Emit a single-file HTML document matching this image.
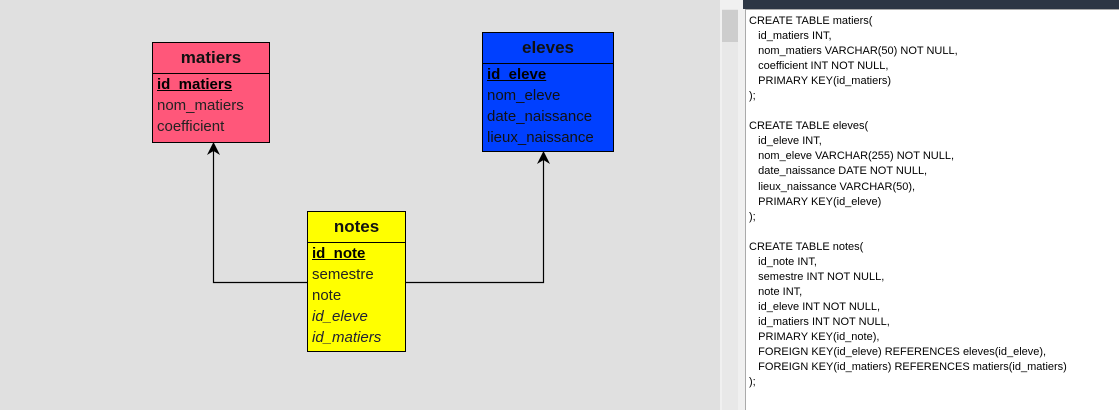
<!DOCTYPE html>
<html><head><style>
body{margin:0;width:1119px;height:410px;background:#e0e0e0;position:relative;overflow:hidden;font-family:"Liberation Sans",sans-serif}
.t{position:absolute;border:1px solid #000;box-sizing:border-box}
.h{border-bottom:1px solid #000;text-align:center;font-weight:bold;font-size:17px;height:30px;line-height:30px;color:#111}
.f{font-size:15px;line-height:21px;padding-left:4px;color:#222}
.k{font-weight:bold;text-decoration:underline;color:#000}
.i{font-style:italic;color:#223}
#sql{position:absolute;left:745px;top:9px;width:374px;height:401px;background:#fff;border-left:1px solid #aaa;border-top:1px solid #aaa;box-sizing:border-box;font-size:11px;line-height:15.05px;padding:4px 0 0 3px;white-space:pre;color:#000}
</style></head><body>
<div style="position:absolute;left:720px;top:0;width:399px;height:410px;background:#f0f0f0"></div>
<div style="position:absolute;left:722px;top:9px;width:16px;height:401px;background:#e8e8e8"></div>
<div style="position:absolute;left:722px;top:10px;width:16px;height:32px;background:#cdcdcd"></div>
<div style="position:absolute;left:743px;top:0;width:376px;height:9px;background:#2d3644"></div>
<div id="sql">CREATE TABLE matiers(
   id_matiers INT,
   nom_matiers VARCHAR(50) NOT NULL,
   coefficient INT NOT NULL,
   PRIMARY KEY(id_matiers)
);

CREATE TABLE eleves(
   id_eleve INT,
   nom_eleve VARCHAR(255) NOT NULL,
   date_naissance DATE NOT NULL,
   lieux_naissance VARCHAR(50),
   PRIMARY KEY(id_eleve)
);

CREATE TABLE notes(
   id_note INT,
   semestre INT NOT NULL,
   note INT,
   id_eleve INT NOT NULL,
   id_matiers INT NOT NULL,
   PRIMARY KEY(id_note),
   FOREIGN KEY(id_eleve) REFERENCES eleves(id_eleve),
   FOREIGN KEY(id_matiers) REFERENCES matiers(id_matiers)
);</div>
<svg style="position:absolute;left:0;top:0" width="720" height="410">
<path d="M213.5 145 V282.5 H543.5 V154" fill="none" stroke="#000" stroke-width="1.2"/>
<path d="M213.5 142 L207 155 L213.5 151 L220 155 Z" fill="#000"/>
<path d="M543.5 151 L537 164 L543.5 160 L550 164 Z" fill="#000"/>
</svg>
<div class="t" style="left:152px;top:42px;width:118px;height:101px;background:#ff577a">
<div class="h">matiers</div>
<div class="f"><span class="k">id_matiers</span><br>nom_matiers<br>coefficient</div></div>
<div class="t" style="left:482px;top:32px;width:132px;height:120px;background:#0040ff">
<div class="h">eleves</div>
<div class="f" style="color:#111"><span class="k">id_eleve</span><br>nom_eleve<br>date_naissance<br>lieux_naissance</div></div>
<div class="t" style="left:307px;top:211px;width:99px;height:141px;background:#ffff00">
<div class="h">notes</div>
<div class="f"><span class="k">id_note</span><br>semestre<br>note<br><span class="i">id_eleve</span><br><span class="i">id_matiers</span></div></div>
</body></html>
